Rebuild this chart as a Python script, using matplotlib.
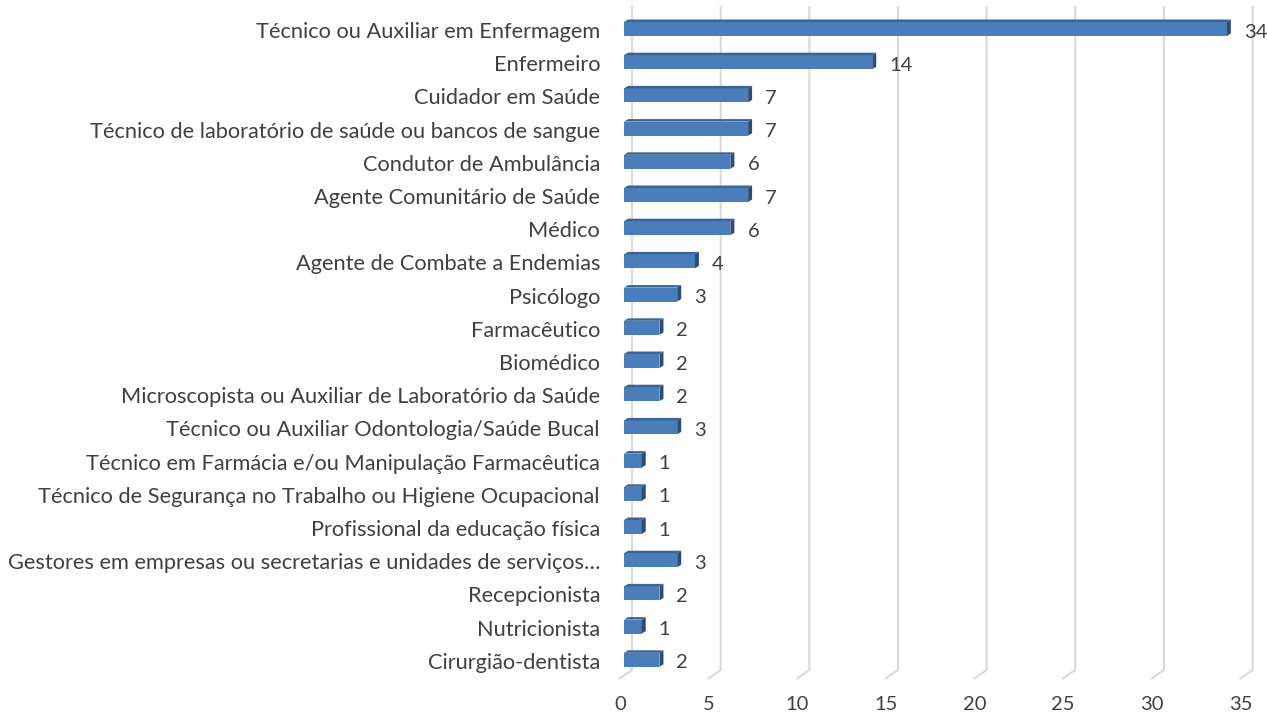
import matplotlib
matplotlib.use('Agg')
import matplotlib.pyplot as plt
from matplotlib.patches import Polygon

categories = [
    'Técnico ou Auxiliar em Enfermagem',
    'Enfermeiro',
    'Cuidador em Saúde',
    'Técnico de laboratório de saúde ou bancos de sangue',
    'Condutor de Ambulância',
    'Agente Comunitário de Saúde',
    'Médico',
    'Agente de Combate a Endemias',
    'Psicólogo',
    'Farmacêutico',
    'Biomédico',
    'Microscopista ou Auxiliar de Laboratório da Saúde',
    'Técnico ou Auxiliar Odontologia/Saúde Bucal',
    'Técnico em Farmácia e/ou Manipulação Farmacêutica',
    'Técnico de Segurança no Trabalho ou Higiene Ocupacional',
    'Profissional da educação física',
    'Gestores em empresas ou secretarias e unidades de serviços…',
    'Recepcionista',
    'Nutricionista',
    'Cirurgião-dentista',
]
values = [34, 14, 7, 7, 6, 7, 6, 4, 3, 2, 2, 2, 3, 1, 1, 1, 3, 2, 1, 2]
x_ticks = [0, 5, 10, 15, 20, 25, 30, 35]

W, H = 1267, 719
PX = 17.73    # pixels per unit
ROW = 33.2    # pixels per category row
Y0 = 29       # pixel y of first row centre
X0 = 624      # pixel x of value 0 on the front plane

FRONT = '#4A7EBB'
TOP = '#3B6496'
SIDE = '#2C4D77'
GRID = '#D9D9D9'
TEXT = '#404040'
FONT = 'Lato'
FS_CAT = 15.7
FS_NUM = 14.5


def px_x(p):
    return p / PX


def px_y(p):
    return p / ROW


fig = plt.figure(figsize=(W / 100, H / 100), dpi=100)
ax = fig.add_axes([X0 / W, 0, (W - X0) / W, 1])
ax.set_xlim(0, (W - X0) / PX)
ax.set_ylim((H - Y0) / ROW, -Y0 / ROW)
ax.axis('off')

# back wall gridlines with the floor corner
y_top = px_y(6 - Y0)
y_bot = px_y(670 - Y0)
y_floor = px_y(679 - Y0)
for v in x_ticks:
    xb = v + px_x(8)
    xf = v - px_x(5)
    ax.plot([xb, xb, xf], [y_top, y_bot, y_floor], color=GRID, lw=1.5,
            solid_capstyle='butt', zorder=1, clip_on=False)
    ax.text(v - px_x(4), px_y(705 - Y0), str(v), ha='center', va='center',
            fontsize=FS_NUM, color=TEXT, family=FONT)

# 3D-ish bars: front face, top face, side face
h = px_y(14)
dx = px_x(4)
dy = px_y(2.5)
for i, (cat, v) in enumerate(zip(categories, values)):
    yt = i - h / 2
    yb = i + h / 2
    ax.barh(i, v, height=h, left=0, color=FRONT, zorder=3)
    ax.add_patch(Polygon([(0, yt), (v, yt), (v + dx, yt - dy), (dx, yt - dy)],
                         closed=True, color=TOP, zorder=3, lw=0))
    ax.add_patch(Polygon([(v, yt), (v + dx, yt - dy), (v + dx, yb - dy), (v, yb)],
                         closed=True, color=SIDE, zorder=3, lw=0))
    ax.text(v + dx + px_x(13), i + px_y(3), str(v), ha='left', va='center',
            fontsize=FS_NUM, color=TEXT, family=FONT)
    ax.text(-px_x(24), i + px_y(3), cat, ha='right', va='center',
            fontsize=FS_CAT, color=TEXT, family=FONT, clip_on=False)

fig.savefig('out.png', dpi=100, facecolor='white')
